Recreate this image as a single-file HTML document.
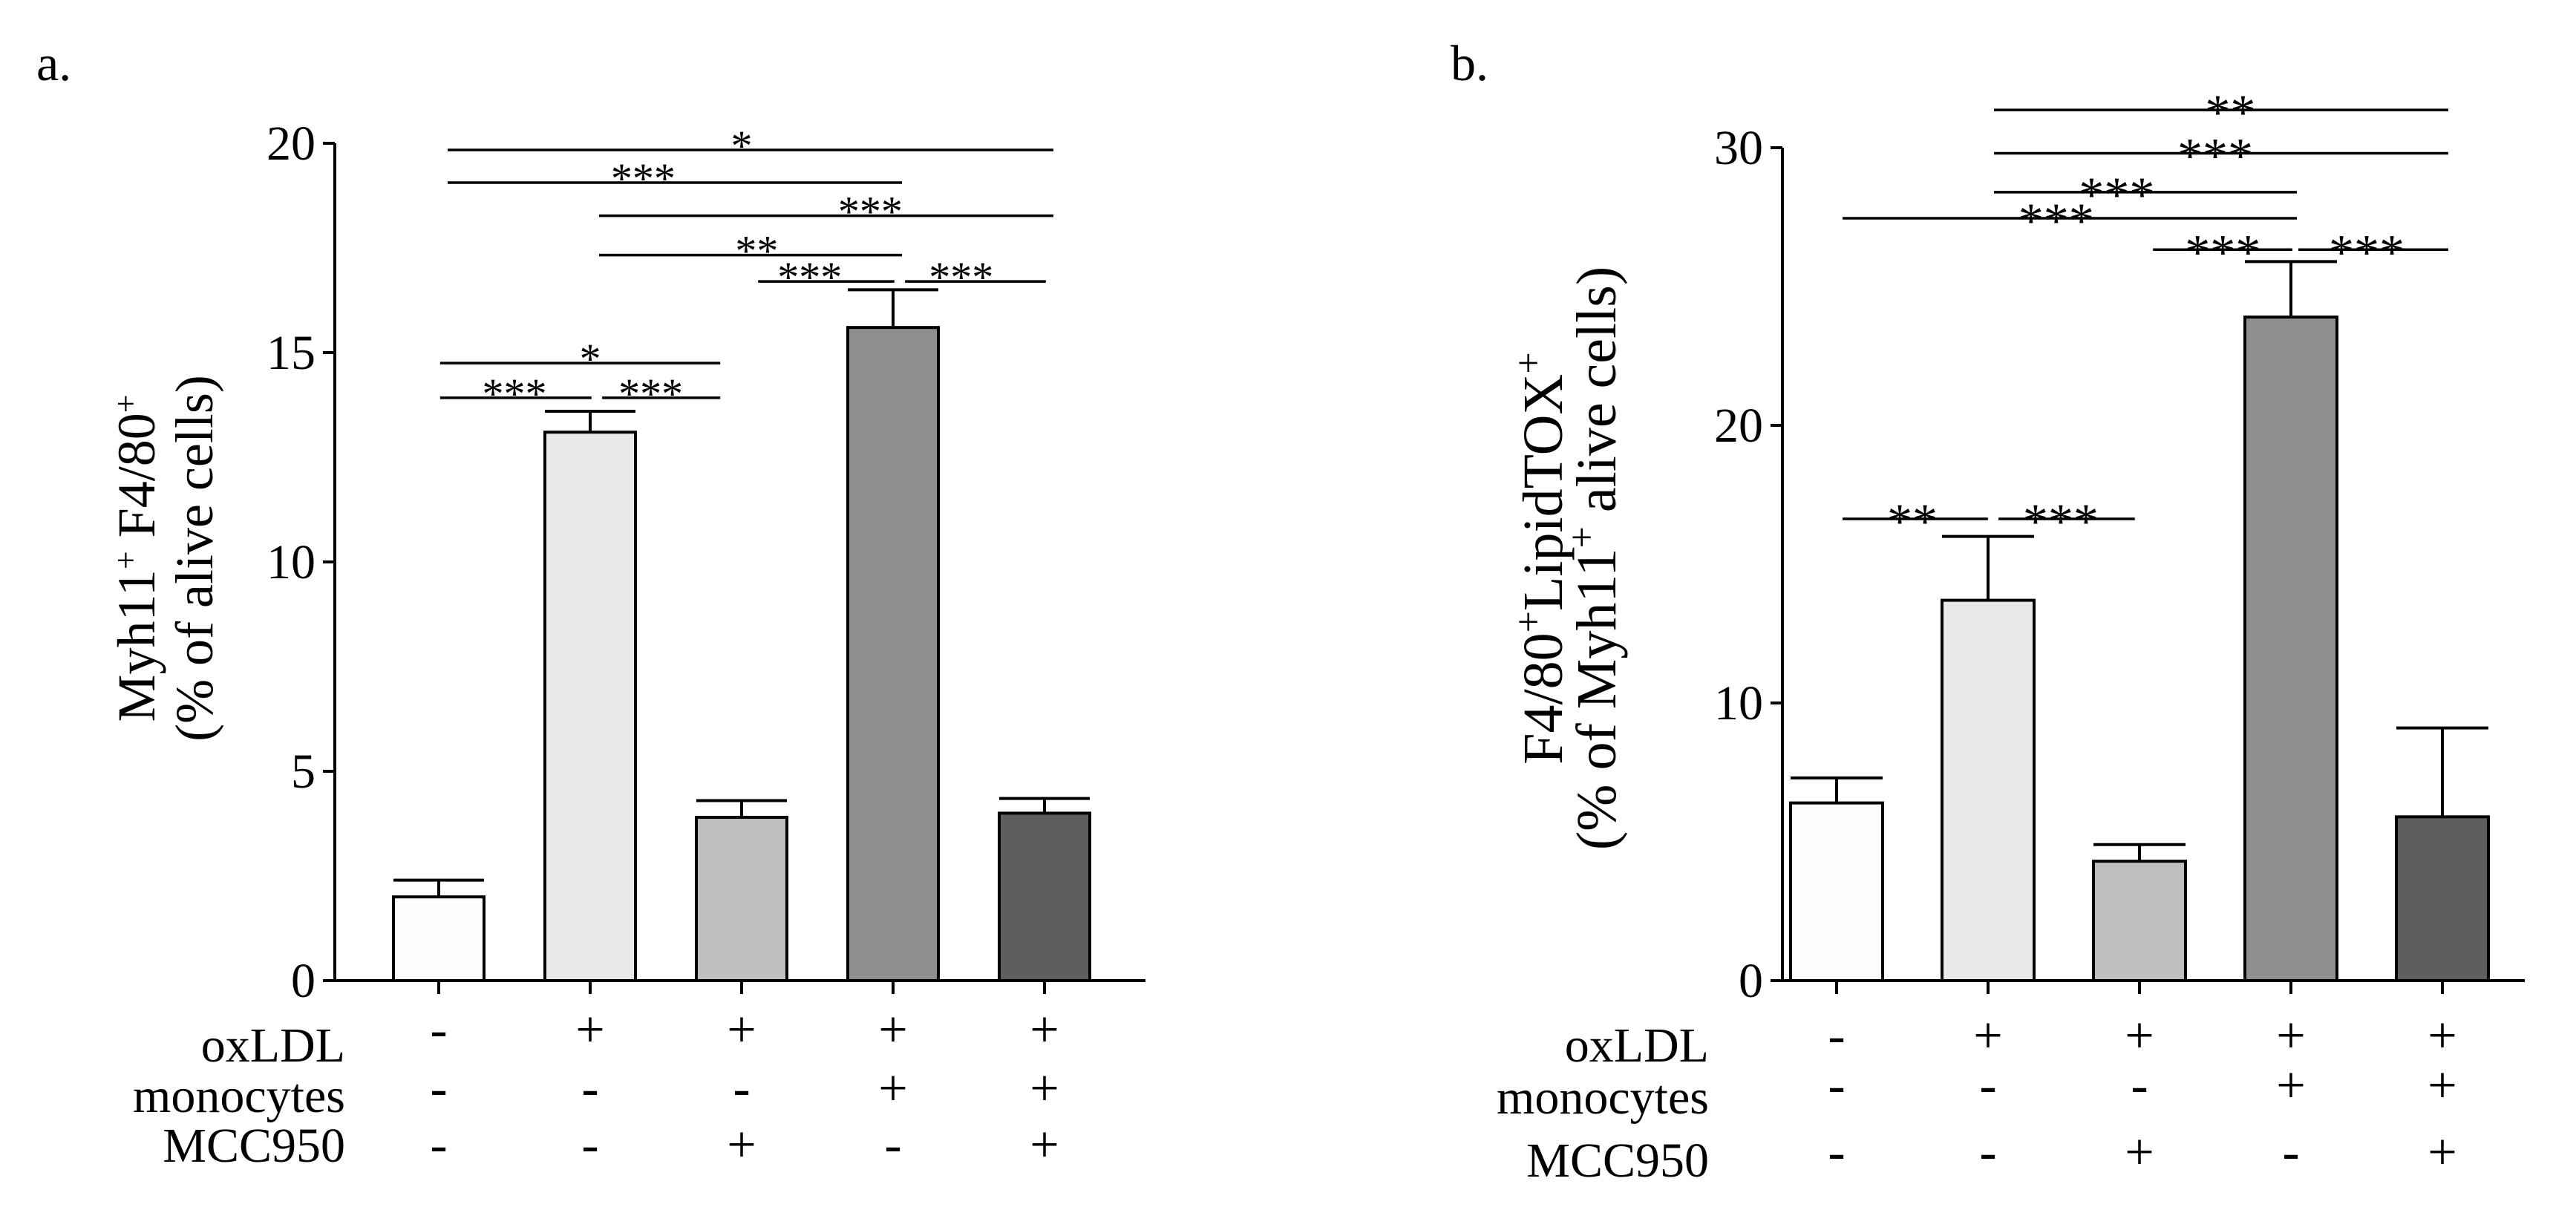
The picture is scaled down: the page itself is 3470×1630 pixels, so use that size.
<!DOCTYPE html>
<html><head><meta charset="utf-8"><style>
html,body{margin:0;padding:0;background:#fff;}
svg{display:block;font-family:"Liberation Serif",serif;}
</style></head><body>
<svg id="fig" width="3470" height="1630" viewBox="0 0 3470 1630" xmlns="http://www.w3.org/2000/svg">
<text x="49" y="108" font-size="68">a.</text>
<text x="1954" y="108" font-size="68">b.</text>
<g id="pa"></g>
<g id="pb"></g>
<text transform="translate(208,752) rotate(-90)" font-size="72" text-anchor="middle">Myh11<tspan font-size="44" baseline-shift="super">+</tspan> F4/80<tspan font-size="44" baseline-shift="super">+</tspan></text>
<text transform="translate(286,752) rotate(-90)" font-size="72" text-anchor="middle">(% of alive cells)</text>
<text transform="translate(2104,752) rotate(-90)" font-size="76" text-anchor="middle">F4/80<tspan font-size="52" baseline-shift="super">+</tspan>LipidTOX<tspan font-size="52" baseline-shift="super">+</tspan></text>
<text transform="translate(2176,752) rotate(-90)" font-size="76" text-anchor="middle">(% of Myh11<tspan font-size="52" baseline-shift="super">+</tspan> alive cells)</text>
</svg>
<script>
const categories = ["g1","g2","g3","g4","g5"];
const oxLDL = ["-","+","+","+","+"];
const monocytes = ["-","-","-","+","+"];
const mcc950 = ["-","-","+","-","+"];
const fills = ["#fcfcfc","#e8e8e7","#bfbfbf","#8f8f8f","#5e5e5e"];
const aValues = [2.0,13.1,3.9,15.6,4.0];
const aErrors = [0.4,0.5,0.4,0.9,0.35];
const aTicks = [0,5,10,15,20];
const bValues = [6.4,13.7,4.3,23.9,5.9];
const bErrors = [0.9,2.3,0.6,2.0,3.2];
const bTicks = [0,10,20,30];
// significance: [fromIndex, toIndex, yValue, label, labelCenterIndex]
const aSig = [[0,4,19.84,"*",2],[0,3,19.06,"***",1.35],[1,4,18.27,"***",2.85],[1,3,17.33,"**",2.1],[2.05,2.95,16.7,"***",2.45],[3.02,3.95,16.7,"***",3.45],[-0.05,1.8,14.75,"*",1],[-0.05,0.95,13.92,"***",0.5],[1.02,1.8,13.92,"***",1.4]];
const bSig = [[1,4,31.36,"**",2.6],[1,4,29.8,"***",2.5],[1,3,28.4,"***",1.85],[0,3,27.46,"***",1.45],[2.05,2.97,26.33,"***",2.55],[3.01,4,26.33,"***",3.5],[0,0.96,16.63,"**",0.5],[1.03,1.93,16.63,"***",1.48]];
const NS="http://www.w3.org/2000/svg";
function mk(parent,tag,attrs){const e=document.createElementNS(NS,tag);for(const k in attrs)e.setAttribute(k,attrs[k]);parent.appendChild(e);return e;}
function draw(g,cfg){
  const yS=v=>cfg.y0-(v/cfg.ymax)*(cfg.y0-cfg.ytop);
  const xS=i=>cfg.x0c+i*cfg.step;
  let ax=mk(g,"line",{x1:cfg.ax,y1:yS(cfg.ymax),x2:cfg.ax,y2:cfg.y0,stroke:"#000","stroke-width":4});
  
  
  let xx=mk(g,"line",{x1:cfg.ax,y1:cfg.y0,x2:cfg.xend,y2:cfg.y0,stroke:"#000","stroke-width":4});
  
  
  cfg.ticks.forEach(t=>{
    const y=yS(t);
    const tl=mk(g,"line",{x1:cfg.ax-16,y1:y,x2:cfg.ax,y2:y,stroke:"#000","stroke-width":4});
    
    
    const tx=mk(g,"text",{x:cfg.ax-26,y:y+22,"font-size":66,"text-anchor":"end"});tx.textContent=t;
    
    
  });
  categories.forEach((c,i)=>{
    const cx=xS(i),v=cfg.values[i],e=cfg.errors[i];
    const tk=mk(g,"line",{x1:cx,y1:cfg.y0,x2:cx,y2:cfg.y0+18,stroke:"#000","stroke-width":4});
    
    
    const el=mk(g,"line",{x1:cx,y1:yS(v),x2:cx,y2:yS(v+e),stroke:"#000","stroke-width":4});
    
    
    const ec=mk(g,"line",{x1:cx-cfg.bw/2,y1:yS(v+e),x2:cx+cfg.bw/2,y2:yS(v+e),stroke:"#000","stroke-width":4});
    
    
    const r=mk(g,"rect",{x:cx-cfg.bw/2,y:yS(v),width:cfg.bw,height:cfg.y0-yS(v),fill:fills[i],stroke:"#000","stroke-width":4});
    
    
    [[oxLDL,cfg.rows[0]],[monocytes,cfg.rows[1]],[mcc950,cfg.rows[2]]].forEach(([arr,ry])=>{
      const s=mk(g,"text",{x:cx,y:ry+22,"font-size":70,"text-anchor":"middle"});s.textContent=arr[i];
      
      
    });
  });
  [["oxLDL",cfg.lrows[0]],["monocytes",cfg.lrows[1]],["MCC950",cfg.lrows[2]]].forEach(([t,ry])=>{
    const s=mk(g,"text",{x:cfg.lx,y:ry+20,"font-size":66,"text-anchor":"end"});s.textContent=t;
    
    
  });
  cfg.sig.forEach(([a,b,v,l,lc])=>{
    const y=yS(v);
    const ln=mk(g,"line",{x1:xS(a)+cfg.sigOff,y1:y,x2:xS(b)+cfg.sigOff,y2:y,stroke:"#000","stroke-width":3.5});
    
    
    const t=mk(g,"text",{x:xS(lc),y:y+cfg.starDy,"font-size":cfg.starSize,"text-anchor":"middle"});t.textContent=l;
    
    
  });
}
draw(document.getElementById("pa"),{ax:451,y0:1321,ytop:193,ymax:20,xend:1543,x0c:591,step:204,bw:122,
  values:aValues,errors:aErrors,ticks:aTicks,sig:aSig,sigOff:12,starDy:14,starSize:58,
  rows:[1388,1467,1543],lrows:[1410,1478,1545],lx:465});
draw(document.getElementById("pb"),{ax:2401,y0:1321,ytop:199,ymax:30,xend:3401,x0c:2474,step:204,bw:124,
  values:bValues,errors:bErrors,ticks:bTicks,sig:bSig,sigOff:8,starDy:26,starSize:68,
  rows:[1396,1463,1553],lrows:[1410,1480,1565],lx:2302});
</script>
</body></html>
